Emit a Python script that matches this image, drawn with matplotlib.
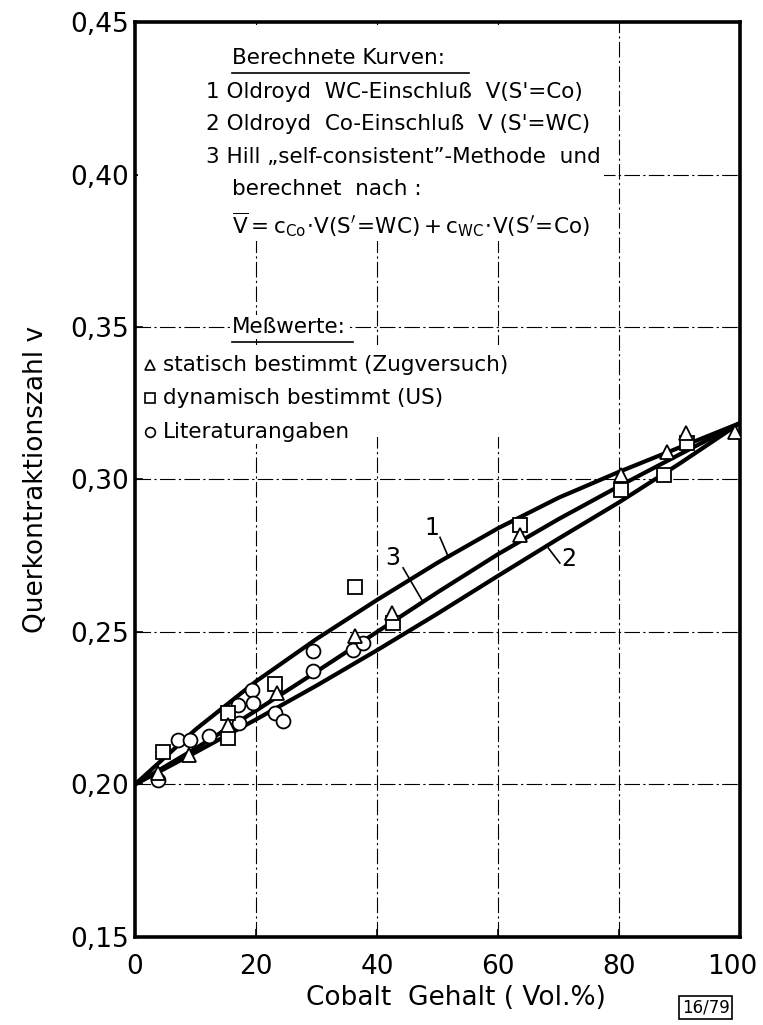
import matplotlib.pyplot as plt
import matplotlib.transforms as mtrans
from matplotlib.patches import Rectangle

plt.rcParams['font.family'] = ['DejaVu Sans']
plt.rcParams['mathtext.fontset'] = 'dejavusans'

# Berechnete Kurven
x_kurve = [0, 10, 20, 30, 40, 50, 60, 70, 80, 90, 100]
kurve_1 = [0.200, 0.2180, 0.2338, 0.2477, 0.2605, 0.2727, 0.2840, 0.2940, 0.3025, 0.3105, 0.3185]
kurve_3 = [0.200, 0.2118, 0.2242, 0.2370, 0.2500, 0.2630, 0.2755, 0.2870, 0.2978, 0.3082, 0.3185]
kurve_2 = [0.200, 0.2105, 0.2213, 0.2324, 0.2440, 0.2560, 0.2684, 0.2806, 0.2925, 0.3052, 0.3185]

# Messwerte
statisch_x = [3.8, 8.9, 15.4, 23.5, 36.4, 42.5, 63.6, 80.3, 87.9, 91.1, 99.2]
statisch_y = [0.2038, 0.2097, 0.2195, 0.2300, 0.2487, 0.2562, 0.2818, 0.3015, 0.3090, 0.3152, 0.3156]
dynamisch_x = [4.7, 15.4, 15.4, 23.1, 36.4, 42.6, 63.6, 80.3, 87.4, 91.2]
dynamisch_y = [0.2107, 0.2234, 0.2152, 0.2330, 0.2648, 0.2530, 0.2851, 0.2966, 0.3015, 0.3120]
literatur_x = [3.8, 7.1, 9.1, 12.2, 17.0, 17.2, 19.3, 19.5, 23.1, 24.5, 29.4, 29.4, 36.0, 37.7]
literatur_y = [0.2015, 0.2146, 0.2146, 0.2160, 0.2260, 0.2200, 0.2310, 0.2267, 0.2234, 0.2208,
               0.2438, 0.2372, 0.2441, 0.2464]

x_ticks = [0, 20, 40, 60, 80, 100]
y_ticks = [0.15, 0.20, 0.25, 0.30, 0.35, 0.40, 0.45]
y_tick_labels = ['0,15', '0,20', '0,25', '0,30', '0,35', '0,40', '0,45']

fig = plt.figure(figsize=(7.63, 10.25), dpi=100)
ax = fig.add_axes([0.177, 0.086, 0.793, 0.8925])

# Gitter (strichpunktiert)
for gx in x_ticks[1:-1]:
    ax.axvline(gx, color='black', lw=0.8, ls=(0, (14, 3, 2, 3)), zorder=1)
for gy in y_ticks[1:-1]:
    ax.axhline(gy, color='black', lw=0.8, ls=(0, (14, 3, 2, 3)), zorder=1)

# Textfelder decken das Gitter ab
ax.add_patch(Rectangle((0.5, 0.383), 77, 0.066, facecolor='white', edgecolor='none', zorder=2))
ax.add_patch(Rectangle((0.5, 0.314), 68, 0.030, facecolor='white', edgecolor='none', zorder=2))

# Kurven
for k in (kurve_1, kurve_3, kurve_2):
    ax.plot(x_kurve, k, color='black', lw=3, solid_capstyle='round', zorder=3)

# Messpunkte
mk = dict(ls='none', mfc='white', mec='black', mew=1.3, ms=10, zorder=4)
ax.plot(literatur_x, literatur_y, marker='o', **mk)
ax.plot(dynamisch_x, dynamisch_y, marker='s', **mk)
ax.plot(statisch_x, statisch_y, marker='^', **mk)

# Kurvennummern mit Hinweislinien
ax.text(49.1, 0.2840, '1', fontsize=17, ha='center', va='center', zorder=5)
ax.plot([50.4, 51.8], [0.2810, 0.2745], color='black', lw=1.2, zorder=5)
ax.text(42.6, 0.2743, '3', fontsize=17, ha='center', va='center', zorder=5)
ax.plot([44.3, 47.6], [0.2710, 0.2598], color='black', lw=1.2, zorder=5)
ax.text(71.6, 0.2740, '2', fontsize=17, ha='center', va='center', zorder=5)
ax.plot([68.3, 70.2], [0.2775, 0.2726], color='black', lw=1.2, zorder=5)

ax.set_xlim(0, 100)
ax.set_ylim(0.15, 0.45)
ax.set_xticks(x_ticks)
ax.set_yticks(y_ticks)
ax.set_yticklabels(y_tick_labels)
ax.tick_params(direction='in', length=6, width=1.2, labelsize=19)
ax.tick_params(axis='x', pad=12)
ax.tick_params(axis='y', pad=4)
for s in ax.spines.values():
    s.set_linewidth(2.6)

# "100" etwas nach links
lab100 = ax.get_xticklabels()[-1]
lab100.set_transform(lab100.get_transform() + mtrans.ScaledTranslation(-8 / 100, 0, fig.dpi_scale_trans))

ax.set_ylabel('Querkontraktionszahl v', fontsize=19, labelpad=16)
fig.text(0.598, 0.026, 'Cobalt  Gehalt ( Vol.%)', fontsize=19, ha='center', va='center')

# Textblock
box = dict(facecolor='white', edgecolor='none', pad=1.5)
fs = 15.5
tx = 0.16
ax.text(tx, 0.961, 'Berechnete Kurven:', transform=ax.transAxes, fontsize=fs,
        va='center', bbox=box, zorder=6)
ax.plot([tx, 0.552], [0.944, 0.944], transform=ax.transAxes, color='black', lw=1.2, zorder=7)
zeilen = [
    '1 Oldroyd  WC-Einschluß  V(S\'=Co)',
    '2 Oldroyd  Co-Einschluß  V (S\'=WC)',
    '3 Hill \u201eself-consistent\u201d-Methode  und',
]
yy = [0.924, 0.889, 0.852]
for z, y in zip(zeilen, yy):
    ax.text(0.118, y, z, transform=ax.transAxes, fontsize=fs, va='center', bbox=box, zorder=6)
ax.text(0.16, 0.817, 'berechnet  nach :', transform=ax.transAxes, fontsize=fs,
        va='center', bbox=box, zorder=6)
ax.text(0.16, 0.779,
        r'$\overline{\rm V}{\rm =c_{Co}\!\cdot\!V(S^{\prime}\!=\!WC)+c_{WC}\!\cdot\!V(S^{\prime}\!=\!Co)}$',
        transform=ax.transAxes, fontsize=fs, va='center', bbox=box, zorder=6)

ax.text(tx, 0.667, 'Meßwerte:', transform=ax.transAxes, fontsize=fs,
        va='center', bbox=box, zorder=6)
ax.plot([tx, 0.36], [0.650, 0.650], transform=ax.transAxes, color='black', lw=1.2, zorder=7)
leg = [('^', 'statisch bestimmt (Zugversuch)', 0.625),
       ('s', 'dynamisch bestimmt (US)', 0.589),
       ('o', 'Literaturangaben', 0.552)]
for m, lab, y in leg:
    ax.text(0.046, y, lab, transform=ax.transAxes, fontsize=fs, va='center', bbox=box, zorder=6)
    ax.plot([0.024], [y], transform=ax.transAxes, marker=m, ms=7, mfc='white', mec='black',
            mew=1.2, ls='none', zorder=7, clip_on=False)

fig.text(0.925, 0.017, '16/79', fontsize=12, ha='center', va='center',
         bbox=dict(facecolor='white', edgecolor='black', lw=1.2, pad=2))

fig.savefig('out.png', dpi=100)
